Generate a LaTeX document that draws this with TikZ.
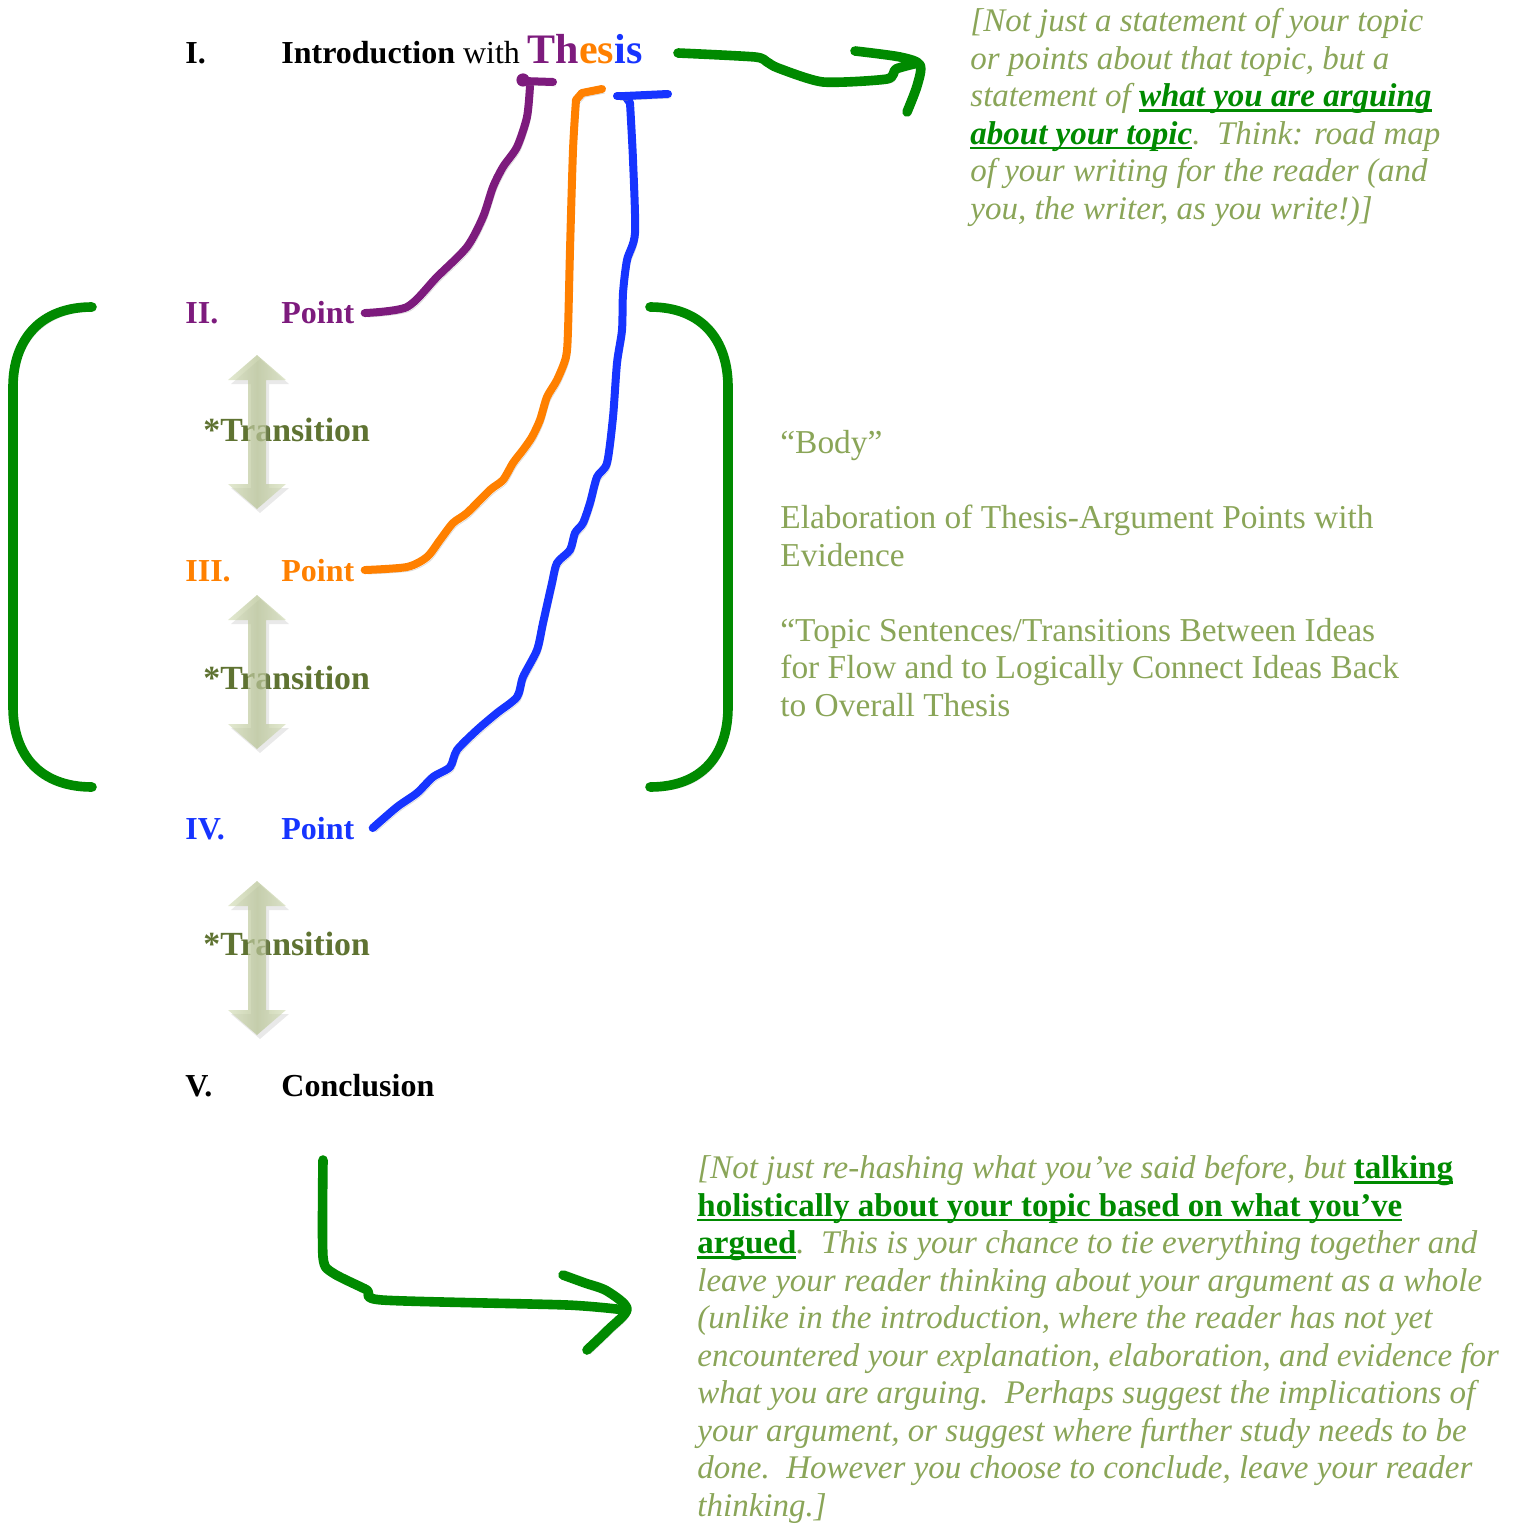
\documentclass[tikz,border=0pt]{standalone}
\usepackage{fontspec}
\setmainfont{Liberation Serif}
\usetikzlibrary{positioning}
\usepackage{xcolor}
\definecolor{thesispurple}{RGB}{125,27,125}
\definecolor{thesisorange}{RGB}{255,128,0}
\definecolor{thesisblue}{RGB}{22,52,255}
\definecolor{markgreen}{RGB}{0,138,0}
\definecolor{notegreen}{RGB}{138,165,88}
\definecolor{transgreen}{RGB}{95,115,50}
\definecolor{arrowpale}{RGB}{214,223,188}
\definecolor{arrowmid}{RGB}{182,194,146}
\newsavebox\keybox
\newcommand\keyphrase[1]{\sbox\keybox{\color{markgreen}\bfseries #1}\textcolor{markgreen}{\rlap{\rule[-2.6pt]{\wd\keybox}{1.3pt}}}\usebox\keybox}
\tikzset{heading/.style={anchor=base west, inner sep=0pt, font=\fontsize{16}{19}\selectfont\bfseries},
transtext/.style={anchor=base west, inner sep=0pt, text=transgreen, font=\fontsize{16.9}{19}\selectfont\bfseries},
notetext/.style={anchor=north west, inner sep=0pt, align=left, text=notegreen, font=\fontsize{16.5}{18.75}\selectfont\itshape},
shadowed/.style={preaction={draw=black!45, draw opacity=0.3, transform canvas={shift={(1.5pt,-2pt)}}}}}

\begin{document}
\begin{tikzpicture}[x=0.5pt, y=-0.5pt,
        handline/.style={line width=4pt, line cap=round, line join=round, shadowed},
        greenline/.style={handline, draw=markgreen, line width=4.8pt},
        transarrow/.style={shade, left color=arrowpale, right color=arrowpale, middle color=arrowmid, fill opacity=0.7,
            preaction={fill=black!40, fill opacity=0.22, transform canvas={shift={(1.5pt,-2pt)}}}}
    ]
        \useasboundingbox (0,0) rectangle (1515,1524);
        % Headings
        \foreach \y/\num/\col/\nm in {
            64/I./black/one,
            324/II./thesispurple/two,
            581/III./thesisorange/three,
            839/IV./thesisblue/four,
            1096/V./black/five} {
            \node[heading, text=\col] (num\nm) at (185,\y) {\num};
        }
        \node[heading] (intro) at (281,64) {Introduction \mdseries with \fontsize{21}{24}\selectfont\bfseries\textcolor{thesispurple}{Th}\textcolor{thesisorange}{es}\textcolor{thesisblue}{is}};
        \node[heading, text=thesispurple] (pointtwo) at (281,324) {Point};
        \node[heading, text=thesisorange] (pointthree) at (281,581) {Point};
        \node[heading, text=thesisblue] (pointfour) at (281,839) {Point};
        \node[heading] (conclusion) at (281,1096) {Conclusion};
        % Transitions
        \foreach \yc/\yb/\nm in {432/441/one, 672/689/two, 958/955/three} {
            \node[transtext] (trans\nm) at (203,\yb) {*Transition};
            \path[transarrow] (257,\yc-77) -- (286,\yc-52) -- (266,\yc-52) -- (266,\yc+52) -- (286,\yc+52) -- (257,\yc+77)
                -- (228,\yc+52) -- (248,\yc+52) -- (248,\yc-52) -- (228,\yc-52) -- cycle;
        }
        % Lines to the thesis
        \coordinate (thpurple) at (530,86);
        \coordinate (thorange) at (576,100);
        \coordinate (thblue) at (630,103);
        \draw[handline, thesispurple] plot[smooth, tension=0.45] coordinates {([xshift=5pt]pointtwo.east) (407,307) (437,277) (467,247) (483,217)
            (493,187) (503,167) (517,147) (527,117) (thpurple)};
        \draw[handline, thesispurple] (523,81) -- (553,82);
        \fill[thesispurple] (523,80) circle (3.3pt);
        \draw[handline, thesisorange] plot[smooth, tension=0.45] coordinates {([xshift=5pt]pointthree.east) (407,567) (427,557) (440,540)
            (453,523) (467,513) (490,490) (503,480) (513,463) (523,450) (532,437) (540,420) (547,397) (557,380) (566,357)
            (568,330) (570,250) (573,150) (thorange)};
        \draw[handline, thesisorange] (thorange) -- (582,93) -- (602,89);
        \draw[handline, thesisblue] plot[smooth, tension=0.45] coordinates {([xshift=9pt]pointfour.east) (397,807) (417,793) (433,777)
            (450,767) (457,750) (477,730) (497,713) (517,697) (523,677) (537,650) (543,623) (552,583) (557,563) (570,550)
            (575,533) (583,523) (590,503) (597,477) (607,463) (613,417) (617,363) (622,330) (623,293) (627,260) (635,233)
            (633,160) (thblue)};
        \draw[handline, thesisblue] (thblue) -- (625,96) -- (668,94);
        \draw[handline, thesisblue] (617,96) -- (625,96);
        % Brackets
        \draw[greenline] (92,307) .. controls (40,307) and (13,340) .. (13,387) -- (13,707) .. controls (13,755) and (40,787) .. (92,787);
        \draw[greenline] (650,307) .. controls (702,307) and (728,340) .. (728,387) -- (728,707) .. controls (728,755) and (702,787) .. (650,787);
        % Arrows to the notes
        \coordinate (thesisout) at (678,53);
        \coordinate (conclout) at (323,1160);
        \draw[greenline] plot[smooth, tension=0.4] coordinates {(thesisout) (755,57) (767,62) (778,68) (823,82) (887,79) (896,69) (918,63)};
        \draw[greenline] plot[smooth, tension=0.5] coordinates {(855,51) (900,57) (920,65) (917,86) (907,112)};
        \draw[greenline] plot[smooth, tension=0.4] coordinates {(conclout) (323,1257) (333,1273) (367,1290) (382,1300) (567,1305) (625,1310)};
        \draw[greenline] plot[smooth, tension=0.5] coordinates {(563,1275) (585,1283) (607,1291) (627,1309) (608,1330) (587,1350)};
        % Notes
        \node[notetext] (thesisnote) at (970,5) {\strut[Not just a statement of your topic\\
            or points about that topic, but a\\
            statement of \keyphrase{what you are arguing}\\
            \keyphrase{about your topic}.\ \ Think: road map\\
            of your writing for the reader (and\\
            you, the writer, as you write!)]};
        \node[notetext, font=\fontsize{16.7}{18.75}\selectfont] (bodynote) at (780,427) {\strut“Body”\\[18.75pt]
            Elaboration of Thesis-Argument Points with\\
            Evidence\\[18.75pt]
            “Topic Sentences/Transitions Between Ideas\\
            for Flow and to Logically Connect Ideas Back\\
            to Overall Thesis};
        \node[notetext] (conclnote) at (697,1152) {\strut[Not just re-hashing what you’ve said before, but \keyphrase{\upshape talking}\\
            \keyphrase{\upshape holistically about your topic based on what you’ve}\\
            \keyphrase{\upshape argued}.\ \ This is your chance to tie everything together and\\
            leave your reader thinking about your argument as a whole\\
            (unlike in the introduction, where the reader has not yet\\
            encountered your explanation, elaboration, and evidence for\\
            what you are arguing.\ \ Perhaps suggest the implications of\\
            your argument, or suggest where further study needs to be\\
            done.\ \ However you choose to conclude, leave your reader\\
            thinking.]};
    \end{tikzpicture}
\end{document}
